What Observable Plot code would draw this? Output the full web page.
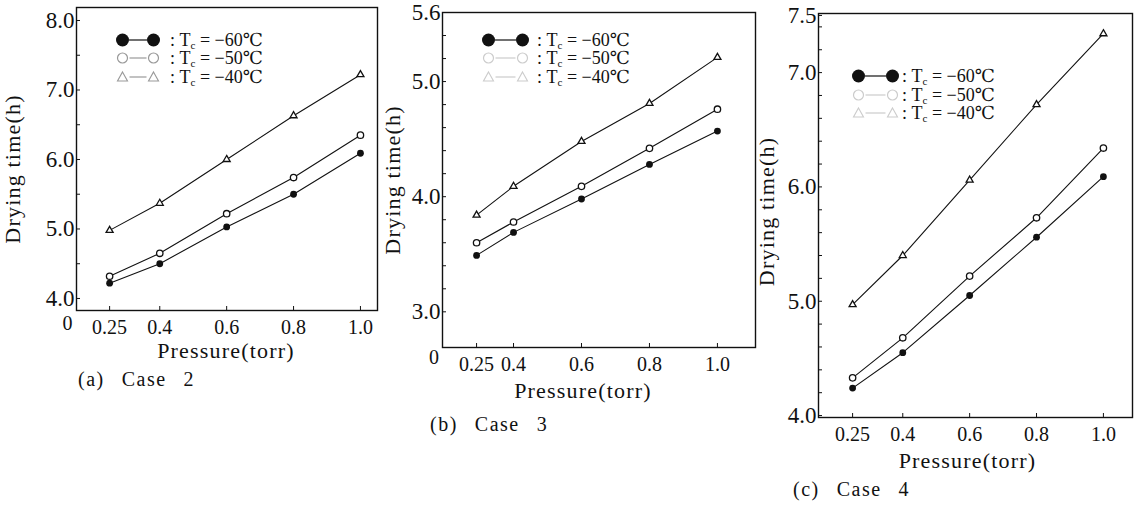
<!DOCTYPE html>
<html><head><meta charset="utf-8">
<script src="https://cdn.jsdelivr.net/npm/d3@7"></script>
<script src="https://cdn.jsdelivr.net/npm/@observablehq/plot@0.6"></script>
<style>
body{margin:0;background:#fff;}
#root{position:relative;width:1142px;height:506px;overflow:hidden;font-family:"Liberation Serif","DejaVu Serif",serif;color:#111;background:#fff;}
.panel{position:absolute;top:0;}
.panel svg{background:transparent !important;overflow:visible;}
g[font-size="22"] text{letter-spacing:1.2px;}
.cap{position:absolute;font-size:20px;line-height:20px;letter-spacing:1.5px;word-spacing:2px;white-space:pre;}
.legend{position:absolute;font-size:18px;line-height:16px;}
.legend .row{display:flex;align-items:center;white-space:nowrap;}
.legend span{line-height:16px;}
.legend sub{font-size:11px;line-height:0;vertical-align:-3px;}
</style></head><body><div id="root"></div>
<script>
// ---- data ----
const pressure = [0.25, 0.4, 0.6, 0.8, 1.0];
const series = ["-60", "-50", "-40"];
const legendTemps = ["−60℃", "−50℃", "−40℃"];

const case2_m60 = [4.22, 4.50, 5.03, 5.50, 6.09];
const case2_m50 = [4.32, 4.65, 5.22, 5.74, 6.35];
const case2_m40 = [4.98, 5.37, 6.00, 6.63, 7.22];

const case3_m60 = [3.49, 3.69, 3.98, 4.28, 4.57];
const case3_m50 = [3.60, 3.78, 4.09, 4.42, 4.76];
const case3_m40 = [3.84, 4.09, 4.48, 4.81, 5.21];

const case4_m60 = [4.24, 4.55, 5.05, 5.56, 6.09];
const case4_m50 = [4.33, 4.68, 5.22, 5.73, 6.34];
const case4_m40 = [4.97, 5.40, 6.06, 6.72, 7.34];

const xTicks = [0.25, 0.4, 0.6, 0.8, 1.0];
const yTicksA = [4.0, 4.5, 5.0, 5.5, 6.0, 6.5, 7.0, 7.5, 8.0];
const yLabelsA = [4.0, 5.0, 6.0, 7.0, 8.0];
const yTicksB = [3.0, 3.2, 3.4, 3.6, 3.8, 4.0, 4.2, 4.4, 4.6, 4.8, 5.0, 5.2, 5.4, 5.6];
const yLabelsB = [3.0, 4.0, 5.0, 5.6];
const yTicksC = [4.0, 4.2, 4.4, 4.6, 4.8, 5.0, 5.2, 5.4, 5.6, 5.8, 6.0, 6.2, 6.4, 6.6, 6.8, 7.0, 7.2, 7.4, 7.5];
const yLabelsC = [4.0, 5.0, 6.0, 7.0, 7.5];

const caseLabels = ["(a)  Case  2", "(b)  Case  3", "(c)  Case  4"];
const xTitle = "Pressure(torr)";
const yTitle = "Drying time(h)";

// panel (b)'s printed axis squeezes the 0.25–0.4 interval
const compressB = 0.725;
const xTransformB = v => v >= 0.4 ? v : 0.4 - (0.4 - v) * compressB;

// ---- layout ----
const panels = [
  {values: [case2_m60, case2_m50, case2_m40], yTicks: yTicksA, yLabels: yLabelsA,
   left: 0, width: 380, height: 372, mt: 7, mr: 3, mb: 62, ml: 76,
   xDomain: [0.151, 1.051], yDomain: [3.827, 8.187],
   xTitleDx: -1, xTitleDy: 32, yTitleDx: -72, yTitleDy: 10, zero: [-9, 13],
   legend: {x1: 122, x2: 153, colon: 170, y: [40, 58, 77], faint: "#999"},
   cap: {left: 78, top: 369}},
  {values: [case3_m60, case3_m50, case3_m40], yTicks: yTicksB, yLabels: yLabelsB,
   left: 380, width: 377, height: 412, mt: 12, mr: 2, mb: 65, ml: 62,
   xDomain: [0.191, 1.112], xTransform: xTransformB, yDomain: [2.69, 5.6],
   xTitleDx: -16, xTitleDy: 35, yTitleDx: -58, yTitleDy: 0, zero: [-8.5, 10],
   legend: {x1: 488, x2: 522, colon: 537, y: [40, 58, 77], faint: "#ccc"},
   cap: {left: 430, top: 414}},
  {values: [case4_m60, case4_m50, case4_m40], yTicks: yTicksC, yLabels: yLabelsC,
   left: 757, width: 385, height: 482, mt: 13, mr: 10, mb: 65, ml: 61,
   xDomain: [0.148, 1.087], yDomain: [3.983, 7.517],
   xTitleDx: -8, xTitleDy: 35, yTitleDx: -60, yTitleDy: -4, zero: null,
   legend: {x1: 858, x2: 892, colon: 902, y: [76, 94.5, 113], faint: "#ccc"},
   cap: {left: 793, top: 479}}
];

const root = document.getElementById("root");
const FONT = "'Liberation Serif','DejaVu Serif',serif";

panels.forEach((cfg, pi) => {
  const rows = pressure.flatMap((p, i) => cfg.values.map((v, k) => ({p, t: v[i], s: series[k]})));
  const fmtY = d => cfg.yLabels.some(l => Math.abs(l - d) < 1e-9) ? d.toFixed(1) : "";
  const marks = [
    Plot.frame({stroke: "#111", strokeWidth: 1.4}),
    Plot.axisY(cfg.yTicks, {tickSize: -4, tickPadding: 6, tickFormat: fmtY, fontSize: 23, label: null}),
    Plot.axisX(xTicks, {tickSize: -4, tickFormat: d => d === 0.25 ? "0.25" : d.toFixed(1), fontSize: 20, label: null}),
    Plot.line(rows, {x: "p", y: "t", z: "s", stroke: "#111", strokeWidth: 1.1}),
    Plot.dot(rows.filter(d => d.s === "-60"), {x: "p", y: "t", r: 3.4, fill: "#111"}),
    Plot.dot(rows.filter(d => d.s === "-50"), {x: "p", y: "t", r: 3.2, fill: "white", stroke: "#111", strokeWidth: 1.3}),
    Plot.dot(rows.filter(d => d.s === "-40"), {x: "p", y: "t", r: 2.6, symbol: "triangle", fill: "white", stroke: "#111", strokeWidth: 1.3}),
    Plot.text([xTitle], {frameAnchor: "bottom", textAnchor: "middle", lineAnchor: "top", dx: cfg.xTitleDx, dy: cfg.xTitleDy, fontSize: 22}),
    Plot.text([yTitle], {frameAnchor: "left", rotate: -90, textAnchor: "middle", lineAnchor: "top", dx: cfg.yTitleDx, dy: cfg.yTitleDy, fontSize: 22})
  ];
  if (cfg.zero) marks.push(Plot.text(["0"], {frameAnchor: "bottom-left", textAnchor: "middle", lineAnchor: "middle", dx: cfg.zero[0], dy: cfg.zero[1], fontSize: 20}));
  const xScale = cfg.xTransform ? {domain: cfg.xDomain, transform: cfg.xTransform} : {domain: cfg.xDomain};
  const svg = Plot.plot({
    width: cfg.width, height: cfg.height,
    marginTop: cfg.mt, marginRight: cfg.mr, marginBottom: cfg.mb, marginLeft: cfg.ml,
    x: xScale, y: {domain: cfg.yDomain},
    style: {fontFamily: FONT, fontSize: "20px", color: "#111", background: "transparent"},
    marks
  });
  const wrap = document.createElement("div");
  wrap.className = "panel";
  wrap.style.left = cfg.left + "px";
  wrap.appendChild(svg);
  root.appendChild(wrap);

  // legend
  const L = cfg.legend;
  const r1 = 6.5, r2 = 5;
  const svgW = (L.x2 - L.x1) + 2 * r1 + 2;
  const leftX = L.x1 - r1 - 1;
  const lg = document.createElement("div");
  lg.className = "legend";
  lg.style.left = leftX + "px";
  lg.style.top = "0px";
  series.forEach((s, k) => {
    const row = document.createElement("div");
    row.className = "row";
    row.style.position = "absolute";
    row.style.left = "0px";
    row.style.top = (L.y[k] - 8) + "px";
    row.style.height = "16px";
    const c1 = r1 + 1, c2 = c1 + (L.x2 - L.x1);
    const col = k === 0 ? "#111" : L.faint;
    let sym;
    if (k === 0) {
      sym = `<circle cx="${c1}" cy="8" r="${r1}" fill="#111"/><circle cx="${c2}" cy="8" r="${r1}" fill="#111"/><line x1="${c1 + r1}" x2="${c2 - r1}" y1="8" y2="8" stroke="${col}" stroke-width="1.2"/>`;
    } else if (k === 1) {
      sym = `<circle cx="${c1}" cy="8" r="${r2}" fill="none" stroke="${col}" stroke-width="1.2"/><circle cx="${c2}" cy="8" r="${r2}" fill="none" stroke="${col}" stroke-width="1.2"/><line x1="${c1 + r2 + 2}" x2="${c2 - r2 - 2}" y1="8" y2="8" stroke="${col}" stroke-width="1.2"/>`;
    } else {
      const tri = cx => `<path d="M${cx},${8 - r2} L${cx + r2},${8 + r2 * 0.8} L${cx - r2},${8 + r2 * 0.8} Z" fill="none" stroke="${col}" stroke-width="1.1"/>`;
      sym = tri(c1) + tri(c2) + `<line x1="${c1 + r2 + 2}" x2="${c2 - r2 - 2}" y1="8" y2="8" stroke="${col}" stroke-width="1.2"/>`;
    }
    const gap = L.colon - leftX - svgW;
    row.innerHTML = `<svg width="${svgW}" height="16" style="display:block;overflow:visible">${sym}</svg><span style="margin-left:${gap}px">:&nbsp;T<sub>c</sub>&nbsp;=&nbsp;${legendTemps[k]}</span>`;
    lg.appendChild(row);
  });
  root.appendChild(lg);

  // caption
  const cap = document.createElement("div");
  cap.className = "cap";
  cap.style.left = cfg.cap.left + "px";
  cap.style.top = cfg.cap.top + "px";
  cap.textContent = caseLabels[pi];
  root.appendChild(cap);
});
</script>
</body></html>
